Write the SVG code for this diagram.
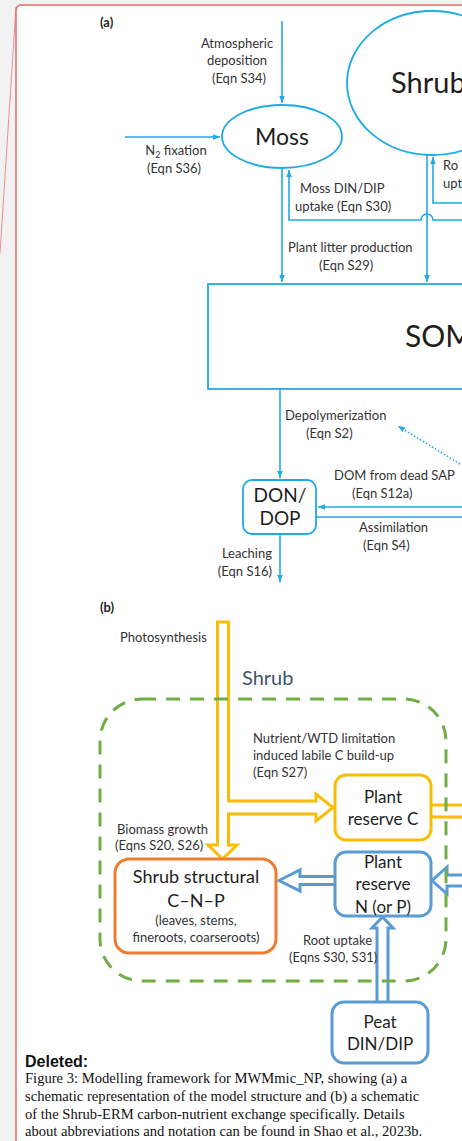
<svg xmlns="http://www.w3.org/2000/svg" width="462" height="1141" viewBox="0 0 462 1141">
<defs>
<style>
.bg{fill:#f2f2f2}
.panel{fill:#ffffff;stroke:#e06a6a;stroke-width:1.5}
.a{fill:none;stroke:#1eaae7;stroke-width:1.6}
.af{fill:#ffffff;stroke:#1eaae7;stroke-width:1.8}
.t{font-family:Lato,"Open Sans",sans-serif;font-size:13px;fill:#333}
.big{font-family:Lato,"Open Sans",sans-serif;fill:#1e1e1e}
.lbl{font-family:Lato,"Liberation Sans",sans-serif;font-weight:bold;font-size:13px;fill:#222}
.m{text-anchor:middle}
.e{text-anchor:end}
.y{fill:#ffffff;stroke:#fbbc05;stroke-width:3;stroke-linejoin:miter}
.yl{fill:none;stroke:#fbbc05;stroke-width:3}
.bl{fill:#ffffff;stroke:#5b9bd5;stroke-width:3}
.or{fill:#ffffff;stroke:#ed7d31;stroke-width:3}
.g{fill:none;stroke:#70ad47;stroke-width:3;stroke-dasharray:14 10}
.cap{font-family:"Liberation Serif",serif;font-size:14.6px;fill:#111}
</style>
<marker id="ah2" viewBox="0 0 10 10" refX="10" refY="5" markerWidth="7" markerHeight="7" orient="auto" markerUnits="userSpaceOnUse">
<path d="M0,1 L10,5 L0,9 z" fill="#1eaae7"/>
</marker>
</defs>

<rect class="bg" x="0" y="0" width="462" height="1141"/>
<line x1="16" y1="7" x2="0" y2="253" stroke="#e89090" stroke-width="1"/>
<rect class="panel" x="16" y="5" width="470" height="1150" rx="5"/>

<g id="connectors">
<path class="a" d="M282,21 V103" marker-end="url(#ah2)"/>
<path class="a" d="M125,137 H220" marker-end="url(#ah2)"/>
<path class="a" d="M282,168 V282" marker-end="url(#ah2)"/>
<path class="a" d="M462,220 H433 A6,6 0 0 0 421,220 H289 V170" marker-end="url(#ah2)"/>
<path class="a" d="M462,203 H433 V157" marker-end="url(#ah2)"/>
<path class="a" d="M427,155 V282" marker-end="url(#ah2)"/>
<path class="a" d="M280,389 V478" marker-end="url(#ah2)"/>
<path class="a" d="M462,507 H318" marker-end="url(#ah2)"/>
<path class="a" d="M316,517 H462"/>
<path class="a" d="M280,534 V582" marker-end="url(#ah2)"/>
<path class="a" d="M460,464 L398,426" stroke-dasharray="1.5 2" marker-end="url(#ah2)"/>

<path class="y" d="M217.5,622 H228.5 V801 H316 V794 L333,807.5 L316,821 V814 H228.5 V845 H237 L222.5,859 L208,845 H217.5 Z"/>
<path class="yl" d="M431,805 H462 M431,817 H462"/>
<path class="bl" d="M462,875 H447 V867 L432,880.5 L447,894 V886 H462"/>
<path class="bl" d="M335,876.5 H300 V870 L279,880.5 L300,891 V884.5 H335"/>
<path class="bl" d="M377,1002 V928 H372 L382.5,917 L393,928 H388 V1002"/>
<rect class="g" x="100" y="699" width="346" height="282" rx="42"/>
</g>

<g id="label-a"><text class="lbl" x="100" y="27">(a)</text></g>
<g id="atm-label">
<text class="t m" x="237" y="48">Atmospheric</text>
<text class="t m" x="237" y="65">deposition</text>
<text class="t m" x="239" y="83">(Eqn S34)</text>
</g>
<g id="n2-label">
<text class="t m" x="176" y="155">N<tspan font-size="9" dy="3">2</tspan><tspan dy="-3"> fixation</tspan></text>
<text class="t m" x="174" y="173">(Eqn S36)</text>
</g>
<g id="moss">
<ellipse class="af" cx="282" cy="136.5" rx="60" ry="31.5"/>
<text class="big m" x="282" y="145" font-size="23">Moss</text>
</g>
<g id="shrub-a">
<ellipse class="af" cx="432" cy="83" rx="85" ry="72"/>
<text class="big" x="391" y="93" font-size="29">Shrub</text>
</g>
<g id="moss-uptake-label">
<text class="t" x="300" y="193">Moss DIN/DIP</text>
<text class="t" x="295" y="211">uptake (Eqn S30)</text>
</g>
<g id="root-label-a">
<text class="t" x="443" y="170">Ro</text>
<text class="t" x="443" y="188">upt</text>
</g>
<g id="litter-label">
<text class="t" x="288" y="252" font-size="13.6">Plant litter production</text>
<text class="t" x="319" y="270" font-size="13.6">(Eqn S29)</text>
</g>
<g id="som">
<rect class="af" x="208" y="284" width="270" height="105"/>
<text class="big" x="405" y="347" font-size="30">SOM</text>
</g>
<g id="depol-label">
<text class="t" x="285" y="420">Depolymerization</text>
<text class="t" x="306" y="438">(Eqn S2)</text>
</g>
<g id="dom-label">
<text class="t" x="334" y="480">DOM from dead SAP</text>
<text class="t" x="352" y="498">(Eqn S12a)</text>
</g>
<g id="assim-label">
<text class="t" x="359" y="532">Assimilation</text>
<text class="t" x="363" y="550">(Eqn S4)</text>
</g>
<g id="don-dop">
<rect class="af" x="243" y="480" width="73" height="54" rx="9"/>
<text class="big m" x="280" y="502" font-size="19">DON/</text>
<text class="big m" x="280" y="525" font-size="19">DOP</text>
</g>
<g id="leach-label">
<text class="t e" x="272" y="558">Leaching</text>
<text class="t e" x="272" y="576">(Eqn S16)</text>
</g>

<g id="label-b"><text class="lbl" x="100" y="612">(b)</text></g>
<g id="photo-label"><text class="t" x="120" y="642">Photosynthesis</text></g>
<g id="shrub-b-label"><text class="big" x="242" y="685" font-size="20" style="fill:#44546a">Shrub</text></g>
<g id="nutrient-label">
<text class="t" x="253" y="743">Nutrient/WTD limitation</text>
<text class="t" x="253" y="760">induced labile C build-up</text>
<text class="t" x="253" y="777">(Eqn S27)</text>
</g>
<g id="reserve-c">
<rect class="y" x="335" y="775" width="96" height="65" rx="11"/>
<text class="big m" x="383" y="803" font-size="17">Plant</text>
<text class="big m" x="383" y="825" font-size="17">reserve C</text>
</g>
<g id="reserve-n">
<rect class="bl" x="335" y="852" width="96" height="64" rx="11"/>
<text class="big m" x="383" y="868" font-size="17">Plant</text>
<text class="big m" x="383" y="890" font-size="17">reserve</text>
<text class="big m" x="383" y="913" font-size="17">N (or P)</text>
</g>
<g id="biomass-label">
<text class="t" x="117" y="834">Biomass growth</text>
<text class="t" x="115" y="850">(Eqns S20, S26)</text>
</g>
<g id="structural">
<rect class="or" x="115" y="859" width="161" height="94" rx="14"/>
<text class="big m" x="196" y="883" font-size="18">Shrub structural</text>
<text class="big m" x="196" y="907" font-size="18">C–N–P</text>
<text class="t m" x="196" y="925">(leaves, stems,</text>
<text class="t m" x="196" y="942">fineroots, coarseroots)</text>
</g>
<g id="root-label-b">
<text class="t" x="303" y="945">Root uptake</text>
<text class="t" x="289" y="962">(Eqns S30, S31)</text>
</g>
<g id="peat">
<rect class="bl" x="332" y="1002" width="96" height="61" rx="12"/>
<text class="big m" x="380" y="1028" font-size="17">Peat</text>
<text class="big m" x="380" y="1050" font-size="17">DIN/DIP</text>
</g>

<g id="caption">
<text x="25" y="1067" font-family="'Liberation Sans',Arial,sans-serif" font-weight="bold" font-size="16" fill="#111">Deleted:</text>
<text class="cap" x="25" y="1083">Figure 3: Modelling framework for MWMmic_NP, showing (a) a</text>
<text class="cap" x="25" y="1101">schematic representation of the model structure and (b) a schematic</text>
<text class="cap" x="25" y="1119">of the Shrub-ERM carbon-nutrient exchange specifically. Details</text>
<text class="cap" x="25" y="1136">about abbreviations and notation can be found in Shao et al., 2023b.</text>
</g>
</svg>
